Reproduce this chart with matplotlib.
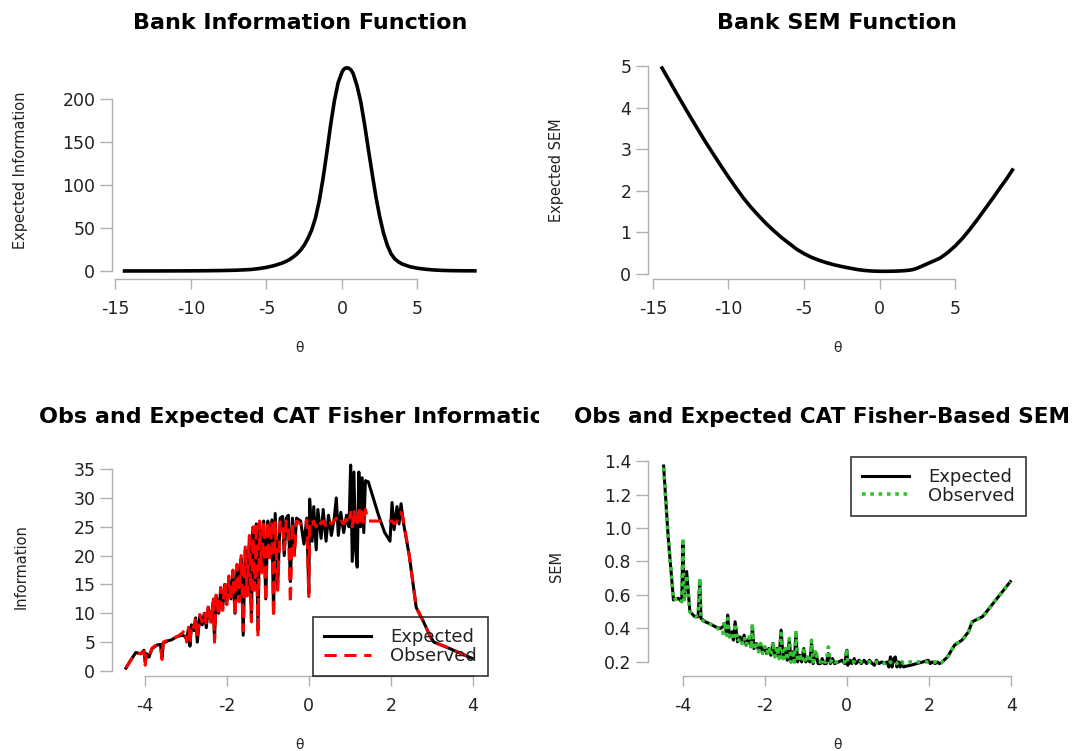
import matplotlib
matplotlib.use("Agg")
import matplotlib.pyplot as plt
from matplotlib.transforms import Bbox, TransformedBbox

plt.rcParams["font.family"] = ["DejaVu Sans"]
plt.rcParams["axes.unicode_minus"] = False

# ── bank functions (top row) ────────────────────────────────────────────────
bank_theta = [-14.4, -14, -13.5, -13, -12.5, -12, -11.5, -11, -10.5, -10, -9.5, -9,
              -8.5, -8, -7.5, -7, -6.5, -6, -5.5, -5, -4.5,
              -4, -3.75, -3.5, -3.25, -3, -2.75, -2.5, -2.25, -2, -1.75, -1.5, -1.25,
              -1, -0.75, -0.5, -0.25, 0,
              0.1, 0.2, 0.3, 0.4, 0.5, 0.6, 0.75,
              1.0, 1.25, 1.5, 1.75, 2.0, 2.25, 2.5, 2.75, 3, 3.25, 3.5, 3.75, 4,
              4.5, 5, 5.5, 6, 6.5, 7, 7.5, 8, 8.4, 8.8]
bank_info = [0.04, 0.045, 0.05, 0.06, 0.07, 0.08, 0.1, 0.12, 0.15, 0.18, 0.24, 0.31,
             0.4, 0.52, 0.7, 0.92, 1.3, 1.8, 2.8, 4.2, 6.2,
             9.0, 10.8, 13, 16, 19.5, 24, 30, 38, 48, 62, 82, 108,
             138, 170, 198, 219, 231,
             234, 235.5, 236, 236, 235, 233.5, 229,
             215, 196, 170, 141, 113, 86, 63, 44, 30, 20, 14, 10.5, 8,
             5, 3.2, 2.1, 1.3, 0.8, 0.5, 0.35, 0.25, 0.2, 0.16]
bank_sem = [4.95, 4.70, 4.38, 4.07, 3.76, 3.46, 3.16, 2.88, 2.60, 2.33, 2.07, 1.82,
            1.60, 1.40, 1.21, 1.04, 0.88, 0.74, 0.60, 0.49, 0.40,
            0.33, 0.30, 0.27, 0.245, 0.22, 0.20, 0.18, 0.16, 0.145, 0.127, 0.11, 0.097,
            0.086, 0.078, 0.072, 0.068, 0.066,
            0.065, 0.065, 0.065, 0.065, 0.065, 0.066, 0.067,
            0.069, 0.072, 0.077, 0.084, 0.093, 0.11, 0.14, 0.18, 0.22, 0.26, 0.30, 0.34, 0.38,
            0.51, 0.67, 0.86, 1.08, 1.32, 1.57, 1.82, 2.08, 2.28, 2.5]

# ── CAT results (bottom row) ────────────────────────────────────────────────
cat_theta = [-4.46, -4.35, -4.22, -4.10, -4.02, -3.99, -3.96, -3.90, -3.82, -3.70,
             -3.62, -3.58, -3.55, -3.45, -3.35, -3.20, -3.08, -3.02, -2.98, -2.93,
             -2.90, -2.86, -2.80, -2.76, -2.72, -2.66, -2.60, -2.55, -2.50, -2.45,
             -2.38, -2.33, -2.30, -2.26, -2.20, -2.15, -2.10, -2.05, -2.00, -1.95,
             -1.90, -1.85, -1.80, -1.75, -1.70, -1.65, -1.60, -1.55, -1.50, -1.45,
             -1.40, -1.36, -1.32, -1.28, -1.24, -1.20, -1.15, -1.10, -1.05, -1.00,
             -0.96, -0.90, -0.86, -0.82, -0.76, -0.70, -0.64, -0.60, -0.55, -0.50,
             -0.45, -0.40, -0.35, -0.30, -0.20, -0.12, -0.05, 0.00, 0.02, 0.08,
             0.12, 0.18, 0.22, 0.30, 0.35, 0.42, 0.48, 0.55, 0.62, 0.67,
             0.72, 0.78, 0.85, 0.92, 0.98, 1.02, 1.06, 1.10, 1.14, 1.18,
             1.22, 1.26, 1.30, 1.34, 1.38, 1.45, 1.55, 1.70, 1.85, 1.98,
             2.03, 2.08, 2.15, 2.20, 2.25, 2.30, 2.45, 2.62, 2.80, 2.96,
             3.05, 3.30, 3.40, 3.98]
cat_info_exp = [0.5, 1.8, 3.2, 3.0, 3.6, 1.5, 3.0, 2.4, 3.9, 4.5,
                4.6, 2.4, 4.8, 5.2, 5.4, 6.0, 6.2, 6.0, 5.5, 7.5,
                4.3, 8.0, 7.0, 9.2, 5.0, 9.5, 8.0, 10.0, 7.5, 11.0,
                8.5, 12.0, 5.5, 13.0, 10.0, 14.0, 11.0, 15.0, 12.0, 16.0,
                12.5, 17.0, 10.0, 18.0, 13.0, 19.5, 6.2, 21.0, 14.0, 23.0,
                9.0, 24.5, 15.0, 25.5, 7.0, 25.8, 18.0, 26.0, 12.5, 26.0,
                20.0, 26.2, 10.0, 27.3, 14.5, 26.5, 26.8, 20.0, 26.5, 27.0,
                15.5, 26.5, 20.5, 26.5, 26.0, 22.0, 26.5, 13.5, 29.8, 22.5,
                28.5, 21.0, 28.0, 23.0, 28.0, 22.5, 27.0, 23.5, 26.5, 30.0,
                23.5, 27.5, 24.0, 27.0, 25.0, 35.7, 19.0, 34.5, 21.0, 18.0,
                34.5, 25.0, 33.5, 24.0, 33.0, 32.8, 30.5, 27.0, 24.0, 22.5,
                29.2, 24.5, 28.5, 25.5, 29.0, 26.0, 20.0, 11.0, 8.5, 6.0,
                5.0, 4.3, 4.0, 2.2]
cat_info_obs = [0.5, 1.8, 3.1, 3.0, 3.4, 1.0, 3.2, 2.6, 4.0, 4.6,
                4.4, 2.0, 5.0, 5.3, 5.6, 6.0, 6.6, 7.2, 5.0, 7.6,
                4.8, 8.2, 7.5, 9.4, 5.5, 9.8, 8.5, 10.2, 8.0, 11.5,
                8.0, 12.5, 5.0, 13.5, 9.5, 14.5, 10.5, 15.5, 11.5, 16.5,
                12.0, 17.5, 9.5, 18.5, 12.0, 20.0, 7.0, 21.5, 13.0, 23.5,
                8.5, 25.0, 14.0, 25.8, 5.9, 26.0, 17.0, 26.0, 12.0, 26.0,
                19.0, 26.0, 9.3, 26.0, 14.0, 25.8, 26.0, 21.0, 26.0, 25.5,
                11.7, 25.8, 20.0, 26.0, 25.5, 25.0, 26.2, 12.9, 26.0, 25.5,
                26.0, 25.0, 26.2, 25.5, 26.0, 25.0, 26.0, 25.5, 26.0, 26.5,
                25.5, 26.0, 25.5, 26.3, 25.5, 27.5, 25.0, 28.0, 25.5, 25.0,
                28.5, 26.0, 27.5, 25.5, 28.0, 26.0, 26.0, 26.0, 26.0, 26.0,
                26.0, 25.5, 26.0, 27.0, 27.5, 26.5, 20.0, 11.0, 8.5, 6.0,
                5.0, 4.3, 4.0, 2.2]
cat_sem_exp = [1.37, 0.95, 0.57, 0.58, 0.56, 0.90, 0.58, 0.74, 0.50, 0.47,
               0.47, 0.68, 0.46, 0.44, 0.43, 0.41, 0.40, 0.41, 0.43, 0.37,
               0.48, 0.35, 0.38, 0.33, 0.44, 0.32, 0.35, 0.32, 0.36, 0.30,
               0.34, 0.29, 0.41, 0.28, 0.31, 0.27, 0.30, 0.26, 0.29, 0.25,
               0.28, 0.24, 0.31, 0.24, 0.28, 0.23, 0.39, 0.22, 0.27, 0.21,
               0.33, 0.20, 0.26, 0.20, 0.37, 0.20, 0.24, 0.20, 0.28, 0.20,
               0.22, 0.20, 0.31, 0.19, 0.26, 0.19, 0.19, 0.22, 0.19, 0.19,
               0.25, 0.19, 0.22, 0.19, 0.20, 0.21, 0.19, 0.27, 0.18, 0.21,
               0.19, 0.22, 0.19, 0.21, 0.19, 0.21, 0.19, 0.21, 0.19, 0.18,
               0.21, 0.19, 0.20, 0.19, 0.20, 0.17, 0.23, 0.17, 0.22, 0.23,
               0.17, 0.20, 0.17, 0.20, 0.17, 0.175, 0.18, 0.19, 0.20, 0.21,
               0.19, 0.20, 0.19, 0.20, 0.19, 0.195, 0.23, 0.30, 0.33, 0.38,
               0.44, 0.47, 0.50, 0.68]
cat_sem_obs = [1.36, 0.95, 0.57, 0.58, 0.56, 0.94, 0.56, 0.72, 0.50, 0.47,
               0.48, 0.70, 0.45, 0.44, 0.43, 0.41, 0.39, 0.37, 0.44, 0.36,
               0.46, 0.35, 0.37, 0.33, 0.43, 0.32, 0.34, 0.31, 0.35, 0.30,
               0.35, 0.28, 0.43, 0.27, 0.32, 0.26, 0.31, 0.25, 0.29, 0.25,
               0.29, 0.24, 0.32, 0.23, 0.29, 0.22, 0.37, 0.22, 0.28, 0.21,
               0.34, 0.20, 0.27, 0.20, 0.39, 0.20, 0.25, 0.20, 0.29, 0.20,
               0.23, 0.20, 0.33, 0.20, 0.27, 0.20, 0.20, 0.22, 0.20, 0.20,
               0.29, 0.20, 0.22, 0.20, 0.20, 0.20, 0.20, 0.28, 0.20, 0.20,
               0.20, 0.20, 0.19, 0.20, 0.20, 0.20, 0.20, 0.20, 0.20, 0.19,
               0.20, 0.20, 0.20, 0.19, 0.20, 0.19, 0.20, 0.19, 0.20, 0.20,
               0.19, 0.20, 0.19, 0.20, 0.19, 0.20, 0.20, 0.20, 0.20, 0.20,
               0.20, 0.20, 0.20, 0.19, 0.19, 0.195, 0.23, 0.30, 0.33, 0.38,
               0.44, 0.47, 0.50, 0.68]

W, H = 1077, 751
AXIS_GREY = "#b0b0b0"
TEXT = "#222222"
GREEN = "#33c033"


def _px_axes(fig, left, right, top, bottom):
    """Add an axes given its pixel box (origin top-left)."""
    return fig.add_axes([left / W, 1 - bottom / H, (right - left) / W, (bottom - top) / H])


def _r_style(ax, xticks, yticks, xlim, ylim, ylabels=None):
    """Base-R look: open axes, grey lines spanning only the tick range."""
    ax.set_xlim(*xlim)
    ax.set_ylim(*ylim)
    for s in ("top", "right"):
        ax.spines[s].set_visible(False)
    for s in ("left", "bottom"):
        ax.spines[s].set_color(AXIS_GREY)
        ax.spines[s].set_linewidth(1.0)
    ax.spines["bottom"].set_bounds(xticks[0], xticks[-1])
    ax.spines["left"].set_bounds(yticks[0], yticks[-1])
    ax.set_xticks(xticks)
    ax.set_yticks(yticks, labels=ylabels if ylabels else [str(v) for v in yticks])
    ax.tick_params(axis="x", length=7, width=1, color=AXIS_GREY, pad=8,
                   labelsize=12.5, labelcolor=TEXT)
    ax.tick_params(axis="y", length=9, width=1, color=AXIS_GREY, pad=3,
                   labelsize=12.5, labelcolor=TEXT)
    ax.patch.set_visible(False)


def _labels(ax, ylabel, h_px, w_px, ylab_x_px):
    ax.set_xlabel("θ", fontsize=10, color=TEXT)
    ax.xaxis.label.set_va("center")
    ax.xaxis.set_label_coords(0.5, -69 / h_px)
    ax.set_ylabel(ylabel, fontsize=10.5, color=TEXT)
    ax.yaxis.label.set_va("center")
    ax.yaxis.set_label_coords(ylab_x_px / w_px, 0.5)


def _legend(ax, loc):
    # R legends have a transparent background: lines stay visible beneath
    leg = ax.legend(loc=loc, borderaxespad=0, fancybox=False, edgecolor="black",
                    facecolor="none", framealpha=None, fontsize=13, handlelength=2.6,
                    borderpad=0.6, labelspacing=0.05, handletextpad=1.1, labelcolor=TEXT)
    leg.get_frame().set_linewidth(1.2)
    return leg


fig = plt.figure(figsize=(W / 100, H / 100), dpi=100)
fig.patch.set_facecolor("white")

# top-left
ax1 = _px_axes(fig, 112, 488, 61, 279)
ax1.plot(bank_theta, bank_info, color="black", lw=2.6)
_r_style(ax1, [-15, -10, -5, 0, 5], [0, 50, 100, 150, 200], (-15.23, 9.67), (-9.3, 244))
_labels(ax1, "Expected Information", 218, 376, 21 - 112)

# top-right
ax2 = _px_axes(fig, 648, 1026, 61, 279)
ax2.plot(bank_theta, bank_sem, color="black", lw=2.6)
_r_style(ax2, [-15, -10, -5, 0, 5], [0, 1, 2, 3, 4, 5], (-15.33, 9.70), (-0.12, 5.12))
_labels(ax2, "Expected SEM", 218, 378, 556 - 648)

# bottom-left
ax3 = _px_axes(fig, 112, 488, 457, 676)
ax3.plot(cat_theta, cat_info_exp, color="black", lw=2.2, label="Expected")
ax3.plot(cat_theta, cat_info_obs, color="red", lw=2.2, ls=(0, (4, 2.5)), label="Observed")
_r_style(ax3, [-4, -2, 0, 2, 4], [0, 5, 10, 15, 20, 25, 30, 35], (-4.8, 4.37), (-0.87, 37.1))
_labels(ax3, "Information", 219, 376, 21 - 112)
_legend(ax3, "lower right")

# bottom-right
ax4 = _px_axes(fig, 648, 1026, 457, 676)
ax4.plot(cat_theta, cat_sem_exp, color="black", lw=2.2, label="Expected")
ax4.plot(cat_theta, cat_sem_obs, color=GREEN, lw=2.6, ls=(0, (1, 1.3)), label="Observed")
sem_ticks = [0.2, 0.4, 0.6, 0.8, 1.0, 1.2, 1.4]
_r_style(ax4, [-4, -2, 0, 2, 4], sem_ticks, (-4.84, 4.36), (0.116, 1.424),
         ylabels=[f"{v:.1f}" for v in sem_ticks])
_labels(ax4, "SEM", 219, 378, 557 - 648)
_legend(ax4, "upper right")

# titles (left one clipped to its figure half, as in R's figure regions)
titles = [
    ("Bank Information Function", 300, 23, 16, 0.0, 0.5),
    ("Bank SEM Function", 837, 23, 16, 0.5, 1.0),
    ("Obs and Expected CAT Fisher Information", 300, 417, 16, 0.0, 0.5),
    ("Obs and Expected CAT Fisher-Based SEM", 822, 417, 15.5, 0.5, 1.0),
]
for txt, xp, yp, fs, c0, c1 in titles:
    t = fig.text(xp / W, 1 - yp / H, txt, ha="center", va="center",
                 fontsize=fs, fontweight="bold", color="black")
    t.set_clip_on(True)
    t.set_clip_box(TransformedBbox(Bbox.from_extents(c0, 0, c1, 1), fig.transFigure))

fig.savefig("out.png", dpi=100)
plt.close(fig)
